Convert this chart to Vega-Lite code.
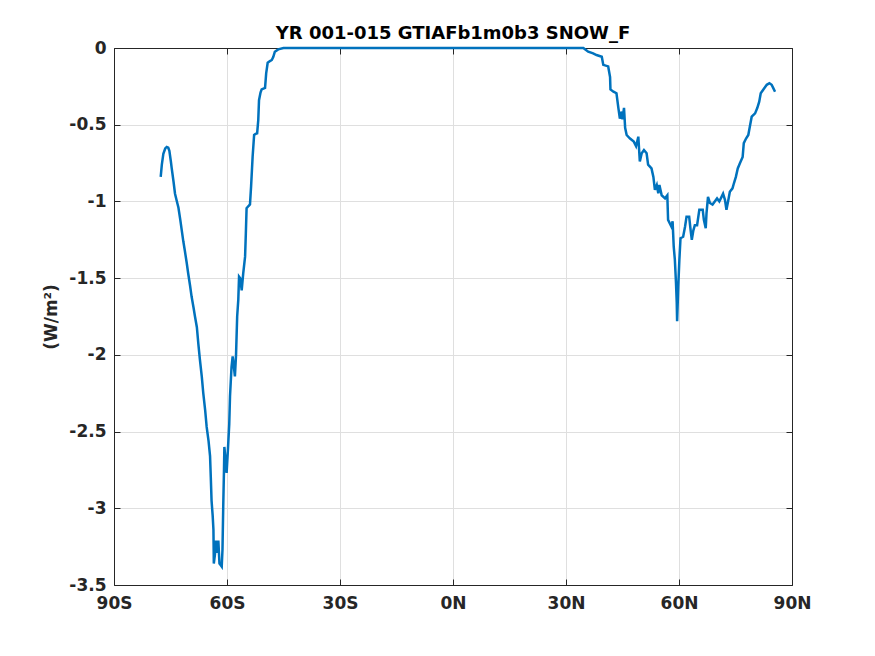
{
  "$schema": "https://vega.github.io/schema/vega-lite/v6.json",
  "width": 678,
  "height": 537,
  "autosize": "none",
  "padding": {"left": 114, "top": 48, "right": 83, "bottom": 71},
  "background": "white",
  "title": {"text": "YR 001-015 GTIAFb1m0b3 SNOW_F", "font": "DejaVu Sans", "fontSize": 18, "fontWeight": "bold", "color": "#000000", "offset": -4},
  "config": {
    "view": {"stroke": null},
    "axis": {
      "labelFont": "DejaVu Sans", "labelFontSize": 17, "labelFontWeight": "bold", "labelColor": "#262626",
      "titleFont": "DejaVu Sans", "titleFontSize": 17, "titleFontWeight": "bold", "titleColor": "#262626",
      "domainColor": "#262626", "domainWidth": 1, "tickColor": "#262626", "tickWidth": 1, "tickSize": -6,
      "gridColor": "#dfdfdf", "gridWidth": 1, "gridOpacity": 1, "labelFlush": false, "labelOverlap": false
    }
  },
  "data": {"values": [
    {"lat": -77.6, "v": -0.84}, {"lat": -77.3, "v": -0.76}, {"lat": -76.9, "v": -0.69}, {"lat": -76.4, "v": -0.655},
    {"lat": -76.0, "v": -0.645}, {"lat": -75.6, "v": -0.65}, {"lat": -75.3, "v": -0.67}, {"lat": -74.9, "v": -0.74},
    {"lat": -74.7, "v": -0.78}, {"lat": -74.2, "v": -0.87}, {"lat": -73.8, "v": -0.95}, {"lat": -73.3, "v": -1.0},
    {"lat": -72.9, "v": -1.04}, {"lat": -72.4, "v": -1.12}, {"lat": -72.0, "v": -1.19}, {"lat": -71.6, "v": -1.26},
    {"lat": -71.2, "v": -1.32}, {"lat": -70.7, "v": -1.40}, {"lat": -70.3, "v": -1.47}, {"lat": -69.8, "v": -1.55},
    {"lat": -69.4, "v": -1.62}, {"lat": -68.9, "v": -1.69}, {"lat": -68.5, "v": -1.75}, {"lat": -68.0, "v": -1.82},
    {"lat": -67.6, "v": -1.93}, {"lat": -67.2, "v": -2.03}, {"lat": -66.7, "v": -2.14}, {"lat": -66.3, "v": -2.25},
    {"lat": -65.8, "v": -2.36}, {"lat": -65.4, "v": -2.47}, {"lat": -64.9, "v": -2.56}, {"lat": -64.5, "v": -2.66},
    {"lat": -64.3, "v": -2.80}, {"lat": -64.1, "v": -2.95}, {"lat": -63.8, "v": -3.05}, {"lat": -63.6, "v": -3.14},
    {"lat": -63.5, "v": -3.36}, {"lat": -63.2, "v": -3.30}, {"lat": -62.9, "v": -3.21}, {"lat": -62.6, "v": -3.29},
    {"lat": -62.3, "v": -3.21}, {"lat": -62.0, "v": -3.36}, {"lat": -61.7, "v": -3.37}, {"lat": -61.4, "v": -3.38},
    {"lat": -61.2, "v": -3.27}, {"lat": -61.0, "v": -2.99}, {"lat": -60.8, "v": -2.75}, {"lat": -60.7, "v": -2.60},
    {"lat": -60.4, "v": -2.68}, {"lat": -60.1, "v": -2.77}, {"lat": -59.8, "v": -2.64}, {"lat": -59.4, "v": -2.45},
    {"lat": -59.2, "v": -2.27}, {"lat": -58.8, "v": -2.08}, {"lat": -58.5, "v": -2.01}, {"lat": -58.3, "v": -2.05},
    {"lat": -57.9, "v": -2.14}, {"lat": -57.6, "v": -2.0}, {"lat": -57.3, "v": -1.75}, {"lat": -57.0, "v": -1.64},
    {"lat": -56.8, "v": -1.49}, {"lat": -56.5, "v": -1.50}, {"lat": -56.1, "v": -1.58}, {"lat": -55.7, "v": -1.47},
    {"lat": -55.2, "v": -1.36}, {"lat": -55.0, "v": -1.21}, {"lat": -54.8, "v": -1.045}, {"lat": -54.3, "v": -1.03},
    {"lat": -53.9, "v": -1.02}, {"lat": -53.6, "v": -0.90}, {"lat": -53.2, "v": -0.71}, {"lat": -52.8, "v": -0.567},
    {"lat": -52.4, "v": -0.56}, {"lat": -52.0, "v": -0.556}, {"lat": -51.7, "v": -0.47}, {"lat": -51.5, "v": -0.34},
    {"lat": -51.1, "v": -0.29}, {"lat": -50.8, "v": -0.27}, {"lat": -49.9, "v": -0.26}, {"lat": -49.6, "v": -0.165},
    {"lat": -49.2, "v": -0.096}, {"lat": -48.6, "v": -0.085}, {"lat": -48.1, "v": -0.078}, {"lat": -47.7, "v": -0.057},
    {"lat": -47.3, "v": -0.024}, {"lat": -46.4, "v": -0.009}, {"lat": -45.0, "v": 0}, {"lat": 0, "v": 0},
    {"lat": 34.6, "v": 0}, {"lat": 35.9, "v": -0.024}, {"lat": 37.2, "v": -0.035}, {"lat": 38.1, "v": -0.046},
    {"lat": 39.5, "v": -0.057}, {"lat": 39.9, "v": -0.11}, {"lat": 41.2, "v": -0.12}, {"lat": 41.7, "v": -0.19},
    {"lat": 41.8, "v": -0.27}, {"lat": 42.6, "v": -0.285}, {"lat": 43.4, "v": -0.295}, {"lat": 43.9, "v": -0.39},
    {"lat": 44.3, "v": -0.46}, {"lat": 44.8, "v": -0.415}, {"lat": 45.0, "v": -0.465}, {"lat": 45.4, "v": -0.39},
    {"lat": 45.7, "v": -0.52}, {"lat": 46.1, "v": -0.567}, {"lat": 47.0, "v": -0.59}, {"lat": 48.0, "v": -0.61},
    {"lat": 48.6, "v": -0.64}, {"lat": 49.2, "v": -0.578}, {"lat": 49.6, "v": -0.74}, {"lat": 50.1, "v": -0.686},
    {"lat": 50.7, "v": -0.665}, {"lat": 51.4, "v": -0.686}, {"lat": 51.8, "v": -0.76}, {"lat": 52.7, "v": -0.785},
    {"lat": 53.2, "v": -0.84}, {"lat": 53.6, "v": -0.925}, {"lat": 54.1, "v": -0.893}, {"lat": 54.5, "v": -0.947},
    {"lat": 54.8, "v": -0.893}, {"lat": 55.4, "v": -0.96}, {"lat": 56.3, "v": -0.98}, {"lat": 56.9, "v": -0.96},
    {"lat": 57.1, "v": -1.12}, {"lat": 58.0, "v": -1.165}, {"lat": 58.3, "v": -1.13}, {"lat": 58.6, "v": -1.295},
    {"lat": 58.9, "v": -1.38}, {"lat": 59.2, "v": -1.53}, {"lat": 59.4, "v": -1.66}, {"lat": 59.5, "v": -1.78},
    {"lat": 59.8, "v": -1.556}, {"lat": 60.1, "v": -1.38}, {"lat": 60.4, "v": -1.24}, {"lat": 61.1, "v": -1.23},
    {"lat": 61.6, "v": -1.165}, {"lat": 62.0, "v": -1.10}, {"lat": 62.7, "v": -1.10}, {"lat": 63.1, "v": -1.19},
    {"lat": 63.4, "v": -1.25}, {"lat": 63.8, "v": -1.19}, {"lat": 64.2, "v": -1.155}, {"lat": 64.8, "v": -1.155},
    {"lat": 65.4, "v": -1.055}, {"lat": 66.3, "v": -1.055}, {"lat": 66.6, "v": -1.12}, {"lat": 67.1, "v": -1.175},
    {"lat": 67.3, "v": -1.078}, {"lat": 67.7, "v": -0.97}, {"lat": 68.2, "v": -1.01}, {"lat": 68.9, "v": -1.02},
    {"lat": 69.5, "v": -1.0}, {"lat": 70.1, "v": -0.98}, {"lat": 70.7, "v": -1.0}, {"lat": 71.3, "v": -0.97},
    {"lat": 71.7, "v": -0.95}, {"lat": 72.2, "v": -0.99}, {"lat": 72.6, "v": -1.055}, {"lat": 73.1, "v": -0.99},
    {"lat": 73.5, "v": -0.937}, {"lat": 74.2, "v": -0.915}, {"lat": 74.6, "v": -0.88}, {"lat": 75.1, "v": -0.84},
    {"lat": 75.6, "v": -0.785}, {"lat": 76.2, "v": -0.75}, {"lat": 76.9, "v": -0.71}, {"lat": 77.2, "v": -0.62},
    {"lat": 77.8, "v": -0.59}, {"lat": 78.4, "v": -0.567}, {"lat": 78.8, "v": -0.513}, {"lat": 79.3, "v": -0.448},
    {"lat": 80.2, "v": -0.426}, {"lat": 80.8, "v": -0.39}, {"lat": 81.3, "v": -0.35}, {"lat": 81.7, "v": -0.295},
    {"lat": 82.4, "v": -0.27}, {"lat": 83.3, "v": -0.24}, {"lat": 84.0, "v": -0.23}, {"lat": 84.6, "v": -0.24},
    {"lat": 85.0, "v": -0.26}, {"lat": 85.5, "v": -0.285}
  ]},
  "layer": [
    {
      "mark": {"type": "line", "color": "#0072BD", "strokeWidth": 2.5},
      "encoding": {
        "x": {"field": "lat", "type": "quantitative", "sort": null,
          "scale": {"domain": [-90, 90], "nice": false, "zero": false},
          "axis": {"orient": "bottom", "values": [-90, -60, -30, 0, 30, 60, 90], "title": null, "labelPadding": 16,
            "labelExpr": "datum.value < 0 ? (-datum.value) + 'S' : datum.value + 'N'"}},
        "y": {"field": "v", "type": "quantitative",
          "scale": {"domain": [-3.5, 0], "nice": false, "zero": false},
          "axis": {"orient": "left", "values": [-3.5, -3, -2.5, -2, -1.5, -1, -0.5, 0], "title": "(W/m²)", "labelPadding": 14, "titlePadding": 8,
            "labelExpr": "datum.value + ''"}}
      }
    },
    {
      "mark": {"type": "line", "opacity": 0},
      "encoding": {
        "x": {"field": "lat", "type": "quantitative", "sort": null,
          "scale": {"domain": [-90, 90], "nice": false, "zero": false},
          "axis": {"orient": "top", "values": [-90, -60, -30, 0, 30, 60, 90], "title": null, "labels": false, "grid": false}},
        "y": {"field": "v", "type": "quantitative",
          "scale": {"domain": [-3.5, 0], "nice": false, "zero": false},
          "axis": {"orient": "right", "values": [-3.5, -3, -2.5, -2, -1.5, -1, -0.5, 0], "title": null, "labels": false, "grid": false}}
      }
    }
  ],
  "resolve": {"axis": {"x": "independent", "y": "independent"}}
}
